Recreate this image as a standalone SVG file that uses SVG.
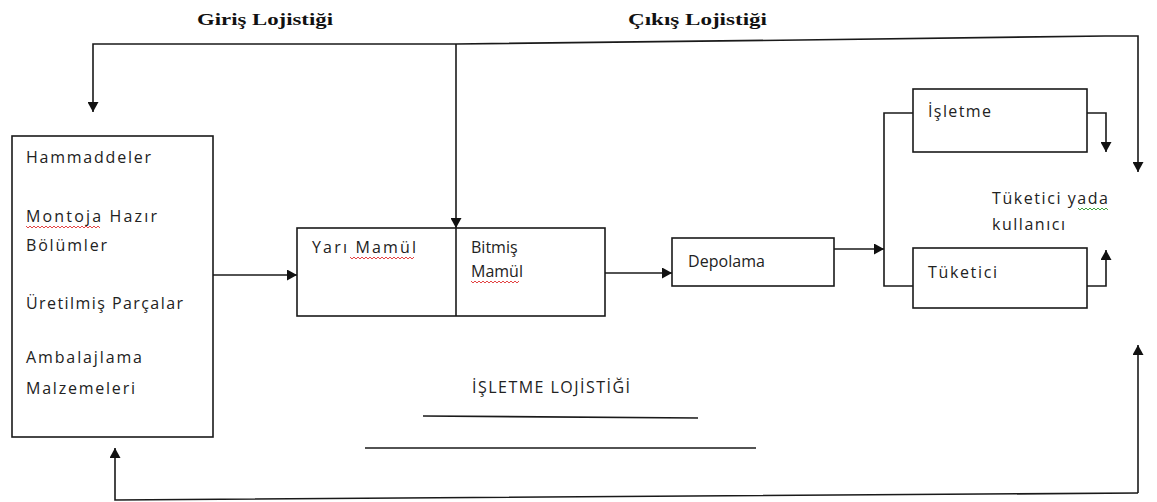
<svg xmlns="http://www.w3.org/2000/svg" width="1157" height="502" viewBox="0 0 1157 502">
  <style>
    .box { fill: #ffffff; stroke: #1a1a1a; stroke-width: 1.6; }
    .line { fill: none; stroke: #1a1a1a; stroke-width: 1.6; }
    .arrow { fill: none; stroke: #1a1a1a; stroke-width: 1.6; marker-end: url(#head); }
    .lbl { font-family: "Open Sans", "Liberation Sans", sans-serif; font-size: 16px; fill: #222222; }
    .title { font-family: "Liberation Serif", "Times New Roman", serif; font-size: 17px; font-weight: bold; fill: #111111; }
    .squig-red { fill: none; stroke: #e03030; stroke-width: 0.9; }
    .squig-green { fill: none; stroke: #2a9a2a; stroke-width: 0.9; }
  </style>
  <defs>
    <marker id="head" markerUnits="userSpaceOnUse" markerWidth="11" markerHeight="11" refX="10" refY="5.5" orient="auto">
      <path d="M0,0 L10,5.5 L0,11 z" fill="#111111"/>
    </marker>
  </defs>
  <rect width="1157" height="502" fill="#ffffff"/>

  <!-- section titles -->
  <text class="title" x="197" y="25" textLength="136" lengthAdjust="spacingAndGlyphs">Giriş Lojistiği</text>
  <text class="title" x="628" y="25" textLength="139" lengthAdjust="spacingAndGlyphs">Çıkış Lojistiği</text>

  <!-- connectors -->
  <g id="connectors">
    <!-- top feedback line -->
    <polyline class="arrow" points="456,44 93,44 93,112"/>
    <polyline class="arrow" points="456,44 800,40 1105,36 1138,36 1138,172"/>
    <line class="arrow" x1="456" y1="44" x2="456" y2="228"/>
    <!-- main flow -->
    <line class="arrow" x1="213" y1="275" x2="297" y2="275"/>
    <line class="arrow" x1="605" y1="273" x2="672" y2="273"/>
    <line class="arrow" x1="834" y1="249" x2="884" y2="249"/>
    <!-- distribution split -->
    <polyline class="line" points="913,113 884,113 884,286 913,286"/>
    <polyline class="arrow" points="1087,113 1106,113 1106,152"/>
    <polyline class="arrow" points="1087,286 1106,286 1106,250"/>
    <!-- bottom return line -->
    <polyline class="arrow" points="1138,493 1138,345"/>
    <polyline class="arrow" points="1138,493 115,500 115,448"/>
    <!-- business logistics underlines -->
    <line class="line" x1="423" y1="416" x2="698" y2="418"/>
    <line class="line" x1="365" y1="448" x2="756" y2="448"/>
  </g>

  <!-- inputs -->
  <g id="node-inputs">
    <rect class="box" x="12" y="136" width="201" height="301"/>
    <text class="lbl" x="26" y="163" textLength="125" lengthAdjust="spacing">Hammaddeler</text>
    <text class="lbl" x="26" y="222" textLength="131" lengthAdjust="spacing">Montoja Hazır</text>
    <path class="squig-red" d="M26,226 l2,2 l2,-2 l2,2 l2,-2 l2,2 l2,-2 l2,2 l2,-2 l2,2 l2,-2 l2,2 l2,-2 l2,2 l2,-2 l2,2 l2,-2 l2,2 l2,-2 l2,2 l2,-2 l2,2 l2,-2 l2,2 l2,-2 l2,2 l2,-2 l2,2 l2,-2 l2,2 l2,-2 l2,2 l2,-2 l2,2 l2,-2 l2,2 l2,-2 l2,2"/>
    <text class="lbl" x="26" y="251" textLength="81" lengthAdjust="spacing">Bölümler</text>
    <text class="lbl" x="26" y="309" textLength="157" lengthAdjust="spacing">Üretilmiş Parçalar</text>
    <text class="lbl" x="26" y="363" textLength="116" lengthAdjust="spacing">Ambalajlama</text>
    <text class="lbl" x="26" y="394" textLength="109" lengthAdjust="spacing">Malzemeleri</text>
  </g>

  <!-- production -->
  <g id="node-production">
    <rect class="box" x="297" y="228" width="308" height="88"/>
    <line class="line" x1="456" y1="228" x2="456" y2="316"/>
    <text class="lbl" x="312" y="253" textLength="104" lengthAdjust="spacing">Yarı Mamül</text>
    <path class="squig-red" d="M350,257 l2,2 l2,-2 l2,2 l2,-2 l2,2 l2,-2 l2,2 l2,-2 l2,2 l2,-2 l2,2 l2,-2 l2,2 l2,-2 l2,2 l2,-2 l2,2 l2,-2 l2,2 l2,-2 l2,2 l2,-2 l2,2 l2,-2 l2,2 l2,-2 l2,2 l2,-2 l2,2 l2,-2 l2,2 l2,-2"/>
    <text class="lbl" x="471" y="253">Bitmiş</text>
    <text class="lbl" x="471" y="277">Mamül</text>
    <path class="squig-red" d="M471,281 l2,2 l2,-2 l2,2 l2,-2 l2,2 l2,-2 l2,2 l2,-2 l2,2 l2,-2 l2,2 l2,-2 l2,2 l2,-2 l2,2 l2,-2 l2,2 l2,-2 l2,2 l2,-2 l2,2 l2,-2 l2,2 l2,-2"/>
  </g>

  <!-- storage -->
  <g id="node-storage">
    <rect class="box" x="672" y="238" width="162" height="48"/>
    <text class="lbl" x="688" y="267" textLength="77" lengthAdjust="spacing">Depolama</text>
  </g>

  <!-- business customer -->
  <g id="node-business">
    <rect class="box" x="913" y="89" width="174" height="63"/>
    <text class="lbl" x="928" y="117" textLength="63" lengthAdjust="spacing">İşletme</text>
  </g>

  <!-- consumer -->
  <g id="node-consumer">
    <rect class="box" x="913" y="248" width="174" height="60"/>
    <text class="lbl" x="928" y="278" textLength="69" lengthAdjust="spacing">Tüketici</text>
  </g>

  <!-- end user label -->
  <g id="node-enduser">
    <text class="lbl" x="992" y="204" textLength="116" lengthAdjust="spacing">Tüketici yada</text>
    <path class="squig-green" d="M1078,208 l2,2 l2,-2 l2,2 l2,-2 l2,2 l2,-2 l2,2 l2,-2 l2,2 l2,-2 l2,2 l2,-2 l2,2 l2,-2 l2,2"/>
    <text class="lbl" x="992" y="230" textLength="73" lengthAdjust="spacing">kullanıcı</text>
  </g>

  <!-- business logistics label -->
  <g id="node-business-logistics">
    <text class="lbl" x="472" y="393" textLength="158" lengthAdjust="spacing">İŞLETME LOJİSTİĞİ</text>
  </g>
</svg>
